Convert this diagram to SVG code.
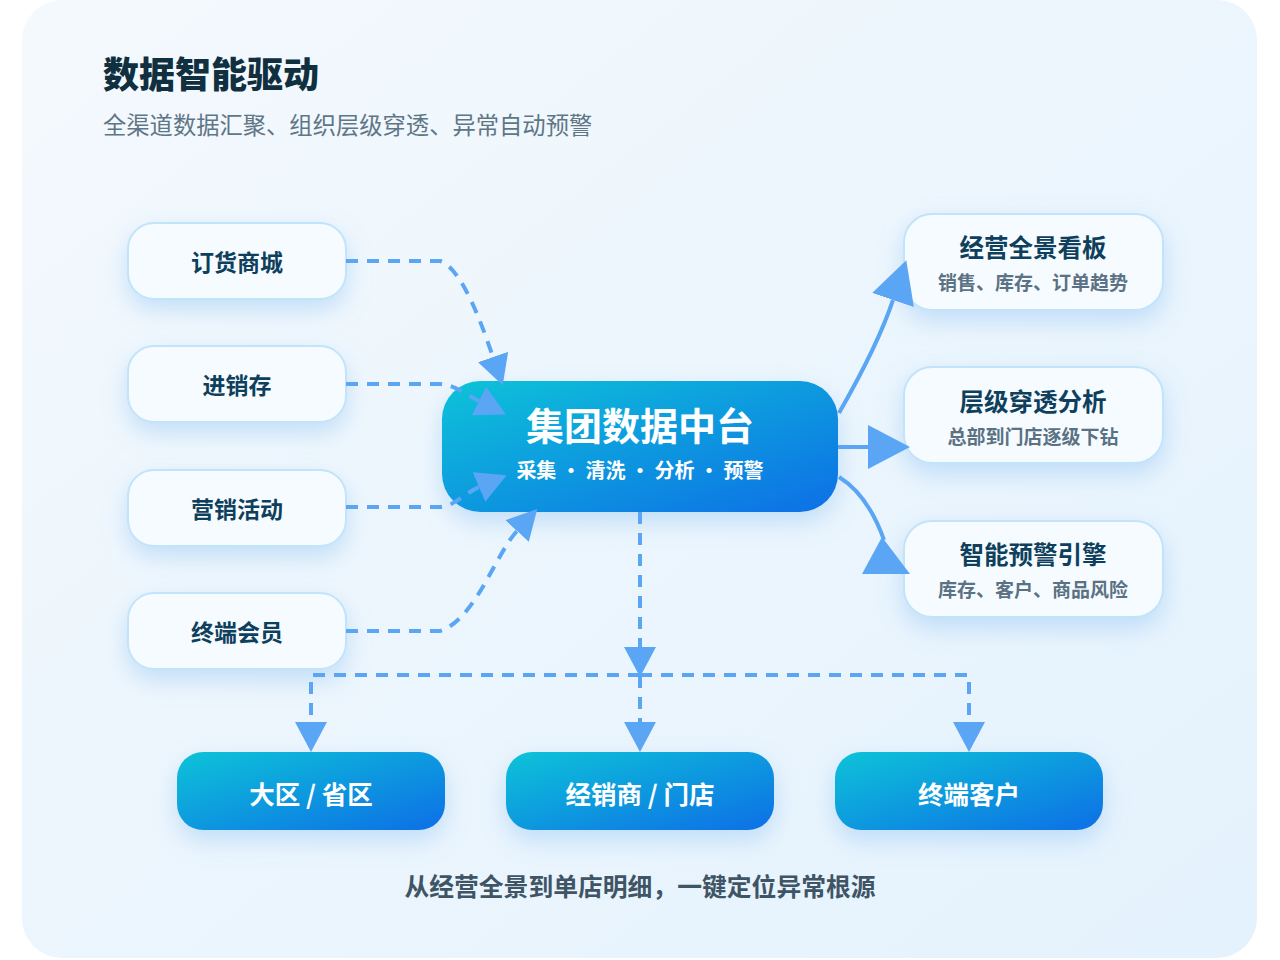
<svg xmlns="http://www.w3.org/2000/svg" width="1280" height="960" viewBox="0 0 1280 960">
<defs>
<linearGradient id="bg" x1="0" y1="0" x2="1" y2="1">
<stop offset="0" stop-color="#f4f9fd"/>
<stop offset="1" stop-color="#e4f2fd"/>
</linearGradient>
<linearGradient id="blue" x1="0" y1="0" x2="1" y2="1">
<stop offset="0" stop-color="#10c3d8"/>
<stop offset="1" stop-color="#0f6fe6"/>
</linearGradient>
<filter id="sh" x="-30%" y="-30%" width="160%" height="180%">
<feDropShadow dx="0" dy="10" stdDeviation="12" flood-color="#6fb0ee" flood-opacity="0.35"/>
</filter>
<marker id="big" viewBox="0 0 10 10" refX="0" refY="5" markerWidth="10.5" markerHeight="11" markerUnits="strokeWidth" orient="auto" preserveAspectRatio="none">
<path d="M0,0 L10,5 L0,10 z" fill="#5ba6f4"/>
</marker>
<marker id="small" viewBox="0 0 10 10" refX="0" refY="5" markerWidth="7.5" markerHeight="8" markerUnits="strokeWidth" orient="auto" preserveAspectRatio="none">
<path d="M0,0 L10,5 L0,10 z" fill="#5ba6f4"/>
</marker>
<style>
.card{fill:url(#bg)}
.src{fill:#f6fbff;stroke:#c2e4fb;stroke-width:2;filter:url(#sh)}
.out{fill:#f6fbff;stroke:#c2e4fb;stroke-width:2;filter:url(#sh)}
.grad{fill:url(#blue);filter:url(#sh)}
.t{font-family:"Noto Sans CJK SC","Noto Sans",sans-serif;text-anchor:middle;dominant-baseline:central}
.lbl{font-size:23px;font-weight:700;fill:#0e3f5c}
.otitle{font-size:24.5px;font-weight:700;fill:#0e3f5c}
.osub{font-size:19px;font-weight:700;fill:#5b7284}
.wt{fill:#ffffff;font-weight:700}
.bt{font-size:25.5px}
.dash{fill:none;stroke:#5ba6f4;stroke-width:4;stroke-dasharray:12 9}
.solid{fill:none;stroke:#5ba6f4;stroke-width:4}
.head{fill:#5ba6f4}
</style>
</defs>
<rect x="0" y="0" width="1280" height="960" fill="#ffffff"/>
<rect class="card" x="22" y="0" width="1235" height="958" rx="40"/>

<g id="header">
<text class="t" x="103" y="72" style="text-anchor:start;font-size:36px;font-weight:900;fill:#10303f">数据智能驱动</text>
<text class="t" x="103" y="124" style="text-anchor:start;font-size:23.3px;font-weight:400;fill:#5f7686">全渠道数据汇聚、组织层级穿透、异常自动预警</text>
</g>

<g id="src-order">
<rect class="src" x="128" y="223" width="218" height="76" rx="26"/>
<text class="t lbl" x="237" y="261">订货商城</text>
</g>
<g id="src-inventory">
<rect class="src" x="128" y="346" width="218" height="76" rx="26"/>
<text class="t lbl" x="237" y="384">进销存</text>
</g>
<g id="src-marketing">
<rect class="src" x="128" y="470" width="218" height="76" rx="26"/>
<text class="t lbl" x="237" y="508">营销活动</text>
</g>
<g id="src-member">
<rect class="src" x="128" y="593" width="218" height="76" rx="26"/>
<text class="t lbl" x="237" y="631">终端会员</text>
</g>

<g id="hub">
<rect class="grad" x="442" y="381" width="396" height="131" rx="38"/>
<text class="t wt" x="640" y="423" style="font-size:38px">集团数据中台</text>
<text class="t wt" x="640" y="469" style="font-size:20px">采集 · 清洗 · 分析 · 预警</text>
</g>

<g id="out-dashboard">
<rect class="out" x="904" y="214" width="259" height="96" rx="28"/>
<text class="t otitle" x="1033" y="246">经营全景看板</text>
<text class="t osub" x="1033" y="281">销售、库存、订单趋势</text>
</g>
<g id="out-drill">
<rect class="out" x="904" y="367" width="259" height="96" rx="28"/>
<text class="t otitle" x="1033" y="400">层级穿透分析</text>
<text class="t osub" x="1033" y="435">总部到门店逐级下钻</text>
</g>
<g id="out-alert">
<rect class="out" x="904" y="521" width="259" height="96" rx="28"/>
<text class="t otitle" x="1033" y="553">智能预警引擎</text>
<text class="t osub" x="1033" y="588">库存、客户、商品风险</text>
</g>

<g id="level-region">
<rect class="grad" x="177" y="752" width="268" height="78" rx="26"/>
<text class="t wt bt" x="311" y="792">大区 / 省区</text>
</g>
<g id="level-dealer">
<rect class="grad" x="506" y="752" width="268" height="78" rx="26"/>
<text class="t wt bt" x="640" y="792">经销商 / 门店</text>
</g>
<g id="level-customer">
<rect class="grad" x="835" y="752" width="268" height="78" rx="26"/>
<text class="t wt bt" x="969" y="792">终端客户</text>
</g>

<g id="connectors">
<path class="dash" d="M346,261 H440 C462,268 482,325 493,357" marker-end="url(#small)"/>
<path class="dash" d="M346,384 H440 C455,385 465,394 479,401" marker-end="url(#small)"/>
<path class="dash" d="M346,507 H440 C455,506 465,493 479,487" marker-end="url(#small)"/>
<path class="dash" d="M346,631 H440 C475,620 495,555 517,531" marker-end="url(#small)"/>
<path class="dash" d="M640,512 V647" marker-end="url(#small)"/>
<path class="dash" d="M640,676 V722" marker-end="url(#small)"/>
<path class="dash" d="M640,675 H311 V722" marker-end="url(#small)"/>
<path class="dash" d="M640,675 H969 V722" marker-end="url(#small)"/>
<path class="solid" d="M839,413 Q878,345 893,300" marker-end="url(#big)"/>
<path class="solid" d="M838,447 H868" marker-end="url(#big)"/>
<path class="solid" d="M839,477 Q868,495 884,540"/>
<polygon class="head" points="862,574 910,574 882,537"/>
</g>

<g id="caption">
<text class="t" x="640" y="885" style="font-size:24.8px;font-weight:700;fill:#3f5566">从经营全景到单店明细，一键定位异常根源</text>
</g>
</svg>
